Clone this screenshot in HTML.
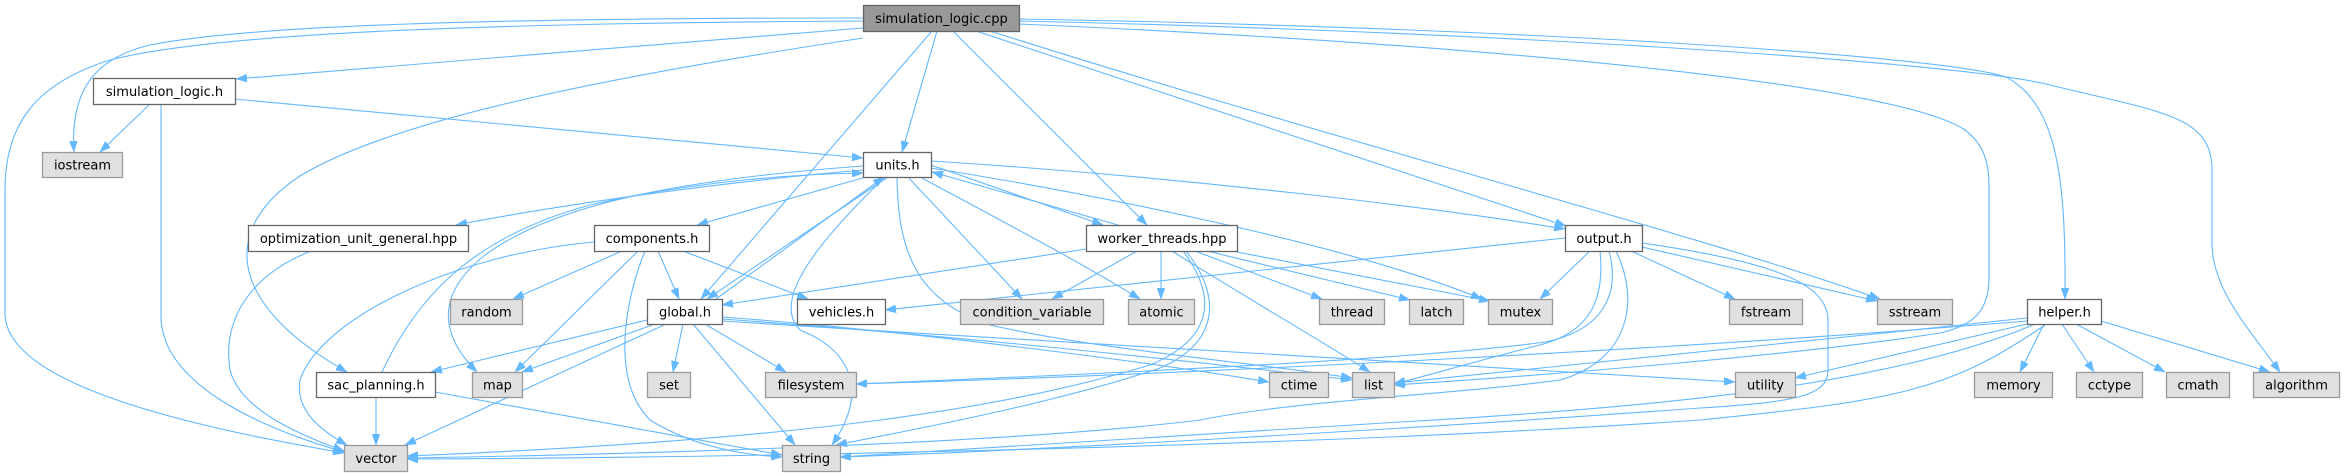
<!DOCTYPE html>
<html>
<head>
<meta charset="utf-8">
<style>
  html, body { margin: 0; padding: 0; background: #ffffff; }
  svg { display: block; }
  .e { fill: none; stroke: #63b8ff; stroke-width: 1.1; marker-end: url(#ah); }
  .n rect { fill: #ffffff; stroke: #666666; stroke-width: 1.3; }
  .x rect { fill: #e0e0e0; stroke: #999999; stroke-width: 1.3; }
  .r rect { fill: #999999; stroke: #666666; stroke-width: 1.3; }
  text { font-family: "DejaVu Sans", "Liberation Sans", sans-serif; font-size: 13px; fill: #000; text-anchor: middle; }
</style>
</head>
<body>
<svg width="2344" height="476" viewBox="0 0 2344 476" xmlns="http://www.w3.org/2000/svg">
  <defs>
    <marker id="ah" markerUnits="userSpaceOnUse" markerWidth="11" markerHeight="8" refX="11" refY="4" orient="auto">
      <path d="M0,0 L11,4 L0,8 z" fill="#63b8ff" stroke="#63b8ff" stroke-width="0.5"/>
    </marker>
  </defs>

  <!-- edges from simulation_logic.cpp -->
  <path class="e" d="M863,28 C700,42 420,63 236,79"/>
  <path class="e" d="M863,18 C500,18 250,25 150,45 C95,58 70,90 74,152"/>
  <path class="e" d="M863,21 C500,23 220,32 110,60 C30,85 5,130 5,190 L5,313 C5,370 120,415 344,453"/>
  <path class="e" d="M937,31 L902,152"/>
  <path class="e" d="M932,31 L701,299"/>
  <path class="e" d="M863,38 C640,72 400,115 300,176 C225,225 220,300 347,372"/>
  <path class="e" d="M953,31 L1147,225"/>
  <path class="e" d="M976,31 L1566,226"/>
  <path class="e" d="M990,31 C1300,130 1700,235 1880,299"/>
  <path class="e" d="M1019,19 C1500,27 1940,55 2006,77 C2058,105 2066,180 2065,299"/>
  <path class="e" d="M1019,21 C1500,32 1960,62 2050,85 C2160,112 2212,115 2212,170 L2212,243 C2212,290 2250,330 2280,372"/>
  <path class="e" d="M1019,24 C1500,45 1900,85 1965,130 C1985,145 1989,165 1989,185 L1989,277 C1989,310 1975,325 1940,333 C1800,355 1550,375 1394,385"/>

  <!-- simulation_logic.h -->
  <path class="e" d="M150,104 L100,152"/>
  <path class="e" d="M161,104 L161,316 C161,380 250,425 344,452"/>
  <path class="e" d="M235,99 L863,158"/>

  <!-- units.h -->
  <path class="e" d="M863,170 C720,182 560,205 456,225"/>
  <path class="e" d="M866,177 L697,225"/>
  <path class="e" d="M888,177 L707,299"/>
  <path class="e" d="M716,299 L884,177"/>
  <path class="e" d="M863,166 C700,178 560,200 485,255 C435,295 440,335 477,372"/>
  <path class="e" d="M382,372 C420,290 480,235 590,205 C700,180 800,174 863,173"/>
  <path class="e" d="M908,177 L1022,299"/>
  <path class="e" d="M920,177 C1000,220 1080,262 1140,299"/>
  <path class="e" d="M897,177 C898,250 915,300 990,325 C1100,350 1250,362 1352,378"/>
  <path class="e" d="M885,177 C820,240 770,300 800,330 C850,350 870,390 832,445"/>
  <path class="e" d="M931,168 C1100,195 1350,245 1482,299"/>
  <path class="e" d="M931,165 L1103,225"/>
  <path class="e" d="M1118,225 L932,172"/>
  <path class="e" d="M931,161 C1200,178 1450,210 1565,229"/>

  <!-- components.h -->
  <path class="e" d="M622,251 L513,299"/>
  <path class="e" d="M638,251 L515,372"/>
  <path class="e" d="M658,251 L679,299"/>
  <path class="e" d="M683,251 L808,299"/>
  <path class="e" d="M594,242 C450,255 320,320 300,380 C295,410 320,430 347,445"/>
  <path class="e" d="M645,251 C625,300 610,380 650,420 C690,445 740,455 782,457"/>

  <!-- optimization_unit_general.hpp -->
  <path class="e" d="M311,251 C250,275 222,320 230,370 C240,410 300,435 344,451"/>

  <!-- global.h -->
  <path class="e" d="M647,320 L431,372"/>
  <path class="e" d="M655,324 L522,372"/>
  <path class="e" d="M666,324 L405,445"/>
  <path class="e" d="M683,324 L673,372"/>
  <path class="e" d="M693,324 L795,445"/>
  <path class="e" d="M705,324 L786,372"/>
  <path class="e" d="M722,317 C900,330 1150,362 1269,382"/>
  <path class="e" d="M722,319 C950,335 1200,362 1352,380"/>
  <path class="e" d="M722,321 C1100,345 1500,368 1735,382"/>

  <!-- worker_threads.hpp -->
  <path class="e" d="M1086,249 L722,305"/>
  <path class="e" d="M1137,251 L1052,299"/>
  <path class="e" d="M1161,251 L1161,299"/>
  <path class="e" d="M1195,251 L1322,299"/>
  <path class="e" d="M1207,251 L1410,300"/>
  <path class="e" d="M1232,251 L1490,301"/>
  <path class="e" d="M1172,251 C1250,300 1320,340 1370,372"/>
  <path class="e" d="M1183,251 C1220,300 1210,340 1150,365 C1000,410 800,440 407,456"/>
  <path class="e" d="M1186,251 C1225,300 1215,345 1160,368 C1050,405 900,432 836,445"/>

  <!-- output.h -->
  <path class="e" d="M1565,238 L885,310"/>
  <path class="e" d="M1590,251 L1540,299"/>
  <path class="e" d="M1631,251 L1735,299"/>
  <path class="e" d="M1642,247 L1877,301"/>
  <path class="e" d="M1642,243 C1760,260 1828,280 1828,320 L1828,370 C1828,395 1800,402 1700,408 C1400,430 1000,452 840,457"/>
  <path class="e" d="M1600,251 C1605,300 1590,332 1540,345 C1480,360 1430,375 1394,384"/>
  <path class="e" d="M1609,251 C1620,292 1605,330 1545,342 C1400,362 1000,378 856,384"/>
  <path class="e" d="M1616,251 C1640,300 1630,360 1560,380 C1450,395 1300,400 1200,420 C1000,445 600,455 407,458"/>

  <!-- helper.h -->
  <path class="e" d="M2027,318 C1800,342 1550,368 1394,383"/>
  <path class="e" d="M2027,321 C1700,348 1200,374 856,384"/>
  <path class="e" d="M2027,324 L1795,378"/>
  <path class="e" d="M2033,325 C1900,380 1700,405 1400,422 C1100,440 900,455 840,457"/>
  <path class="e" d="M2045,325 C1950,390 1900,400 1700,420 C1300,448 700,458 407,459"/>
  <path class="e" d="M2044,324 L2020,372"/>
  <path class="e" d="M2062,324 L2094,372"/>
  <path class="e" d="M2076,324 L2165,372"/>
  <path class="e" d="M2101,321 L2270,372"/>

  <!-- sac_planning.h -->
  <path class="e" d="M376,397 L376,445"/>
  <path class="e" d="M435,392 L782,455"/>

  <!-- nodes -->
  <g class="r"><rect x="863.5" y="5.5" width="156" height="26"/><text x="941.5" y="23">simulation_logic.cpp</text></g>

  <g class="n"><rect x="93.5" y="78.5" width="142" height="26"/><text x="164.5" y="96">simulation_logic.h</text></g>

  <g class="x"><rect x="42.5" y="152.5" width="80" height="25"/><text x="82.5" y="169.5">iostream</text></g>
  <g class="n"><rect x="863.5" y="152.5" width="68" height="25"/><text x="897.5" y="169.5">units.h</text></g>

  <g class="n"><rect x="248.5" y="225.5" width="220" height="26"/><text x="358.5" y="243">optimization_unit_general.hpp</text></g>
  <g class="n"><rect x="594.5" y="225.5" width="115" height="26"/><text x="652" y="243">components.h</text></g>
  <g class="n"><rect x="1086.5" y="225.5" width="151" height="26"/><text x="1162" y="243">worker_threads.hpp</text></g>
  <g class="n"><rect x="1565.5" y="225.5" width="77" height="26"/><text x="1604" y="243">output.h</text></g>

  <g class="x"><rect x="450.5" y="299.5" width="72" height="25"/><text x="486.5" y="316.5">random</text></g>
  <g class="n"><rect x="647.5" y="299.5" width="75" height="25"/><text x="685" y="316.5">global.h</text></g>
  <g class="n"><rect x="797.5" y="299.5" width="88" height="25"/><text x="841.5" y="316.5">vehicles.h</text></g>
  <g class="x"><rect x="960.5" y="299.5" width="143" height="25"/><text x="1032" y="316.5">condition_variable</text></g>
  <g class="x"><rect x="1128.5" y="299.5" width="66" height="25"/><text x="1161.5" y="316.5">atomic</text></g>
  <g class="x"><rect x="1319.5" y="299.5" width="65" height="25"/><text x="1352" y="316.5">thread</text></g>
  <g class="x"><rect x="1409.5" y="299.5" width="54" height="25"/><text x="1436.5" y="316.5">latch</text></g>
  <g class="x"><rect x="1488.5" y="299.5" width="64" height="25"/><text x="1520.5" y="316.5">mutex</text></g>
  <g class="x"><rect x="1729.5" y="299.5" width="73" height="25"/><text x="1766" y="316.5">fstream</text></g>
  <g class="x"><rect x="1877.5" y="299.5" width="75" height="25"/><text x="1915" y="316.5">sstream</text></g>
  <g class="n"><rect x="2027.5" y="299.5" width="74" height="25"/><text x="2064.5" y="316.5">helper.h</text></g>

  <g class="n"><rect x="316.5" y="372.5" width="119" height="25"/><text x="376" y="389.5">sac_planning.h</text></g>
  <g class="x"><rect x="472.5" y="372.5" width="50" height="25"/><text x="497.5" y="389.5">map</text></g>
  <g class="x"><rect x="647.5" y="372.5" width="43" height="25"/><text x="669" y="389.5">set</text></g>
  <g class="x"><rect x="765.5" y="372.5" width="91" height="25"/><text x="811" y="389.5">filesystem</text></g>
  <g class="x"><rect x="1269.5" y="372.5" width="59" height="25"/><text x="1299" y="389.5">ctime</text></g>
  <g class="x"><rect x="1352.5" y="372.5" width="42" height="25"/><text x="1373.5" y="389.5">list</text></g>
  <g class="x"><rect x="1735.5" y="372.5" width="60" height="25"/><text x="1765.5" y="389.5">utility</text></g>
  <g class="x"><rect x="1974.5" y="372.5" width="78" height="25"/><text x="2013.5" y="389.5">memory</text></g>
  <g class="x"><rect x="2076.5" y="372.5" width="66" height="25"/><text x="2109.5" y="389.5">cctype</text></g>
  <g class="x"><rect x="2166.5" y="372.5" width="63" height="25"/><text x="2198" y="389.5">cmath</text></g>
  <g class="x"><rect x="2253.5" y="372.5" width="86" height="25"/><text x="2296.5" y="389.5">algorithm</text></g>

  <g class="x"><rect x="344.5" y="445.5" width="63" height="26"/><text x="376" y="463">vector</text></g>
  <g class="x"><rect x="782.5" y="445.5" width="58" height="26"/><text x="811.5" y="463">string</text></g>
</svg>
</body>
</html>
